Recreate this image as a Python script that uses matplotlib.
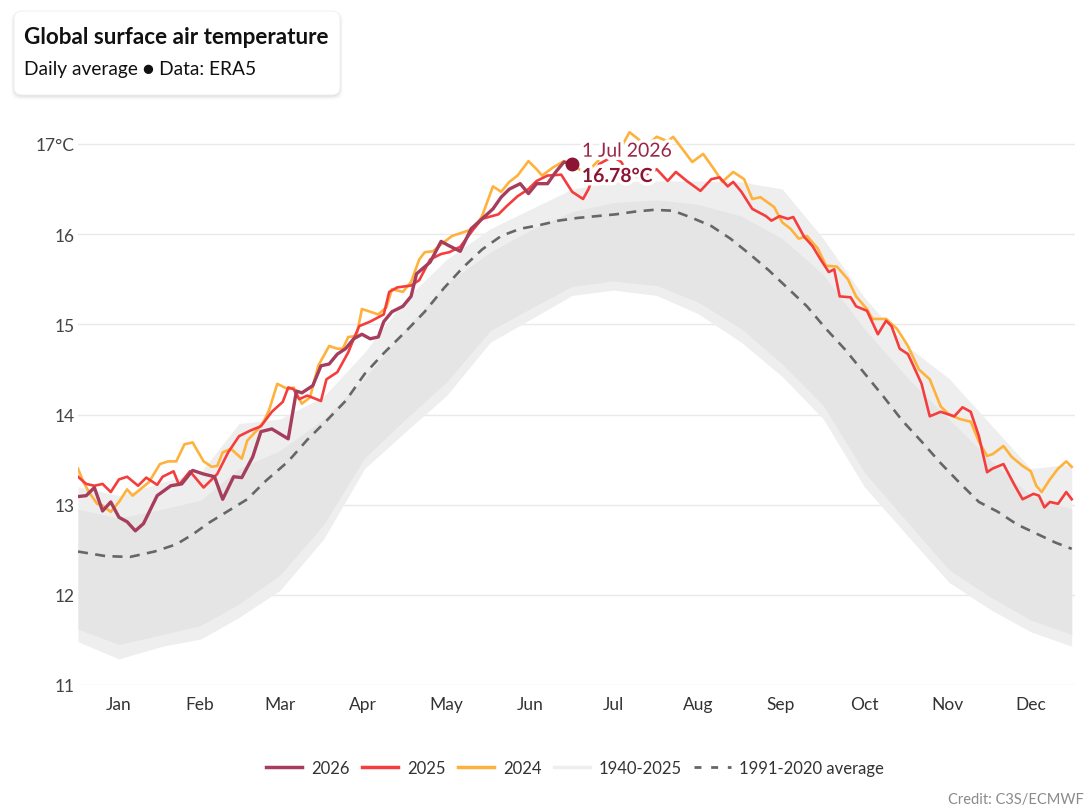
import numpy as np
import matplotlib
matplotlib.use("Agg")
import matplotlib.pyplot as plt
import matplotlib.patheffects as pe
from matplotlib.lines import Line2D
from matplotlib.patches import FancyBboxPatch

plt.rcParams["font.family"] = ["Lato", "DejaVu Sans"]

# ---- data (day of year, 0 = 1 Jan; temperature in degC) ----
MONTHS = ["Jan", "Feb", "Mar", "Apr", "May", "Jun", "Jul", "Aug", "Sep", "Oct", "Nov", "Dec"]
MONTH_MID = [15, 44.5, 74, 104.5, 135, 165.5, 196, 227, 257.5, 288, 318.5, 349]
Y_TICKS = [11, 12, 13, 14, 15, 16, 17]
Y_LABELS = ["11", "12", "13", "14", "15", "16", "17°C"]

SERIES_2026 = [
    (0, 13.09), (3, 13.10), (6, 13.19), (9, 12.93), (12, 13.03), (15, 12.86), (18, 12.81),
    (21, 12.71), (24, 12.79), (29, 13.10), (34, 13.21), (38, 13.23), (42, 13.38), (46, 13.34),
    (50, 13.31), (53, 13.06), (57, 13.31), (60, 13.30), (64, 13.53), (67, 13.81), (71, 13.84),
    (77, 13.73), (80, 14.26), (82, 14.24), (86, 14.32), (89, 14.54), (92, 14.56), (95, 14.67),
    (98, 14.73), (101, 14.84), (104, 14.89), (107, 14.84), (110, 14.86), (112, 15.03),
    (115, 15.14), (119, 15.20), (122, 15.31), (124, 15.56), (129, 15.69), (133, 15.92),
    (136, 15.87), (140, 15.81), (144, 16.06), (148, 16.17), (152, 16.28), (155, 16.41),
    (158, 16.50), (162, 16.56), (165, 16.45), (168, 16.56), (172, 16.56), (175, 16.69),
    (178, 16.80), (181, 16.78),
]

SERIES_2025 = [
    (0, 13.31), (3, 13.23), (6, 13.21), (9, 13.23), (12, 13.14), (15, 13.28), (18, 13.31),
    (22, 13.21), (25, 13.30), (29, 13.22), (31, 13.31), (35, 13.37), (37, 13.22), (41, 13.37),
    (46, 13.19), (51, 13.34), (55, 13.58), (59, 13.76), (63, 13.82), (67, 13.87), (71, 14.03),
    (75, 14.14), (77, 14.30), (79, 14.28), (81, 14.17), (84, 14.21), (89, 14.15), (91, 14.39),
    (95, 14.47), (99, 14.69), (101, 14.84), (103, 14.98), (107, 15.03), (112, 15.11),
    (114, 15.36), (117, 15.41), (122, 15.43), (125, 15.49), (129, 15.72), (133, 15.78),
    (136, 15.80), (140, 15.86), (145, 16.06), (148, 16.17), (154, 16.22), (157, 16.31),
    (161, 16.42), (165, 16.50), (168, 16.59), (172, 16.65), (177, 16.66), (181, 16.47),
    (185, 16.39), (187, 16.50), (189, 16.67), (191, 16.78), (194, 16.83), (196, 16.86),
    (199, 16.80), (202, 16.65), (206, 16.63), (210, 16.69), (212, 16.72), (216, 16.59),
    (219, 16.69), (223, 16.59), (228, 16.48), (232, 16.61), (235, 16.63), (238, 16.53),
    (240, 16.58), (243, 16.47), (247, 16.28), (252, 16.20), (254, 16.15), (257, 16.20),
    (260, 16.17), (262, 16.19), (266, 15.97), (269, 15.87), (272, 15.72), (275, 15.58),
    (277, 15.61), (279, 15.31), (283, 15.30), (285, 15.20), (289, 15.15), (293, 14.89),
    (296, 15.04), (298, 14.98), (301, 14.73), (304, 14.67), (306, 14.54), (309, 14.34),
    (312, 13.98), (316, 14.03), (321, 13.98), (324, 14.08), (327, 14.03), (330, 13.76),
    (333, 13.36), (335, 13.40), (339, 13.45), (343, 13.22), (346, 13.06), (350, 13.12),
    (352, 13.10), (354, 12.97), (356, 13.03), (359, 13.01), (362, 13.14), (364, 13.06),
]

SERIES_2024 = [
    (0, 13.40), (2, 13.25), (4, 13.14), (7, 13.01), (9, 12.99), (12, 12.92), (15, 13.03),
    (18, 13.17), (20, 13.10), (24, 13.20), (26, 13.25), (30, 13.45), (33, 13.48), (36, 13.48),
    (39, 13.67), (42, 13.69), (46, 13.48), (49, 13.42), (51, 13.43), (53, 13.58), (56, 13.62),
    (60, 13.51), (62, 13.71), (66, 13.84), (68, 13.92), (70, 14.05), (73, 14.34), (77, 14.28),
    (79, 14.30), (82, 14.12), (85, 14.19), (88, 14.54), (92, 14.76), (95, 14.73), (97, 14.73),
    (99, 14.86), (102, 14.87), (104, 15.17), (110, 15.11), (113, 15.19), (115, 15.39),
    (119, 15.36), (122, 15.47), (125, 15.72), (127, 15.80), (130, 15.81), (134, 15.91),
    (137, 15.98), (141, 16.02), (145, 16.06), (148, 16.20), (152, 16.53), (155, 16.47),
    (158, 16.58), (161, 16.65), (165, 16.81), (168, 16.72), (170, 16.65), (174, 16.74),
    (178, 16.81), (182, 16.75), (186, 16.67), (191, 16.83), (196, 16.91), (200, 17.02),
    (202, 17.13), (205, 17.06), (208, 16.98), (212, 17.08), (216, 17.03), (218, 17.08),
    (222, 16.92), (225, 16.80), (229, 16.89), (233, 16.72), (236, 16.58), (240, 16.69),
    (244, 16.61), (247, 16.39), (250, 16.41), (255, 16.30), (258, 16.13), (261, 16.06),
    (264, 15.95), (267, 15.98), (271, 15.84), (274, 15.65), (278, 15.64), (282, 15.50),
    (285, 15.31), (289, 15.17), (291, 15.06), (296, 15.06), (300, 14.95), (304, 14.76),
    (308, 14.50), (312, 14.39), (316, 14.09), (319, 14.00), (323, 13.95), (327, 13.92),
    (330, 13.70), (333, 13.54), (335, 13.56), (339, 13.65), (342, 13.53), (346, 13.43),
    (349, 13.37), (351, 13.21), (353, 13.14), (356, 13.28), (359, 13.40), (362, 13.48),
    (364, 13.42),
]

AVERAGE_1991_2020 = [
    (0, 12.48), (10, 12.43), (19, 12.42), (28, 12.48), (36, 12.56), (42, 12.67), (48, 12.80),
    (55, 12.93), (62, 13.06), (69, 13.27), (77, 13.48), (84, 13.72), (91, 13.93), (98, 14.15),
    (105, 14.45), (112, 14.68), (120, 14.92), (127, 15.14), (134, 15.40), (141, 15.63),
    (148, 15.83), (155, 15.98), (162, 16.06), (169, 16.10), (176, 16.15), (183, 16.18),
    (190, 16.20), (197, 16.22), (204, 16.25), (211, 16.27), (218, 16.26), (225, 16.18),
    (232, 16.09), (239, 15.95), (246, 15.78), (253, 15.60), (260, 15.40), (267, 15.20),
    (274, 14.95), (281, 14.72), (288, 14.46), (295, 14.20), (302, 13.93), (309, 13.70),
    (316, 13.46), (323, 13.24), (330, 13.03), (337, 12.92), (344, 12.78), (351, 12.68),
    (358, 12.58), (364, 12.51),
]

# 1940-2025 spread: outer envelope and the densely packed core
BAND_DAYS = [0, 15, 31, 45, 59, 74, 90, 105, 120, 135, 151, 166, 181, 196, 212, 227, 243,
             258, 273, 288, 304, 319, 334, 349, 364]
BAND_LOW = [11.48, 11.29, 11.43, 11.51, 11.75, 12.05, 12.62, 13.40, 13.81, 14.21, 14.80,
            15.06, 15.32, 15.38, 15.32, 15.12, 14.80, 14.42, 13.95, 13.20, 12.65, 12.14,
            11.84, 11.59, 11.43]
BAND_HIGH = [13.20, 13.10, 13.25, 13.36, 13.90, 13.95, 14.20, 14.69, 15.28, 15.72, 16.06,
             16.28, 16.50, 16.58, 16.59, 16.59, 16.58, 16.50, 15.95, 15.30, 14.75, 14.40,
             13.90, 13.40, 13.45]
CORE_LOW = [11.62, 11.45, 11.56, 11.66, 11.90, 12.22, 12.78, 13.52, 13.95, 14.36, 14.93,
            15.18, 15.42, 15.48, 15.43, 15.25, 14.95, 14.56, 14.10, 13.36, 12.80, 12.28,
            11.98, 11.72, 11.56]
CORE_HIGH = [12.95, 12.85, 12.95, 13.05, 13.40, 13.60, 13.95, 14.40, 14.95, 15.45, 15.80,
             16.05, 16.25, 16.35, 16.38, 16.33, 16.20, 15.95, 15.55, 14.95, 14.40, 13.95,
             13.50, 13.10, 12.95]

LATEST = (181, 16.78)

C_2026 = "#a63d5c"
C_2025 = "#f53d3d"
C_2024 = "#ffb23b"
C_BAND = "#eeeeee"
C_CORE = "#e5e5e5"
C_AVG = "#666666"
C_DOT = "#8c1434"

W, H = 1092, 812
fig = plt.figure(figsize=(W / 100, H / 100), dpi=100)
fig.patch.set_facecolor("white")

# axes placed in pixel terms: x 78..1075, y(11)=686, y(17)=145
y_top = 17.35
px_per_deg = (686 - 145) / 6
top_px = 145 - (y_top - 17) * px_per_deg
ax = fig.add_axes([78 / W, (H - 686) / H, (1075 - 78) / W, (686 - top_px) / H])
ax.set_xlim(0, 365.2)
ax.set_ylim(11, y_top)

ax.fill_between(BAND_DAYS, BAND_LOW, BAND_HIGH, color=C_BAND, lw=0, zorder=1)
ax.fill_between(BAND_DAYS, CORE_LOW, CORE_HIGH, color=C_CORE, lw=0, zorder=1.1)

d, t = zip(*AVERAGE_1991_2020)
ax.plot(d, t, color=C_AVG, lw=1.9, dashes=(3.8, 2.8), zorder=2)
d, t = zip(*SERIES_2024)
ax.plot(d, t, color=C_2024, lw=1.9, zorder=3, solid_joinstyle="round")
d, t = zip(*SERIES_2025)
ax.plot(d, t, color=C_2025, lw=1.9, zorder=4, solid_joinstyle="round")
d, t = zip(*SERIES_2026)
ax.plot(d, t, color=C_2026, lw=2.4, zorder=5, solid_joinstyle="round")
ax.plot([LATEST[0]], [LATEST[1]], "o", color=C_DOT, ms=9, zorder=6)

halo = [pe.withStroke(linewidth=5, foreground="white")]
ax.annotate("1 Jul 2026", (LATEST[0], LATEST[1]), xytext=(7, 3), textcoords="offset points",
            fontsize=14, color="#9a2547", va="bottom", ha="left", zorder=7, path_effects=halo)
ax.annotate(f"{LATEST[1]:.2f}°C", (LATEST[0], LATEST[1]), xytext=(7, -3), textcoords="offset points",
            fontsize=14, fontweight="bold", color=C_DOT, va="top", ha="left", zorder=7,
            path_effects=halo)

for s in ax.spines.values():
    s.set_visible(False)
ax.set_yticks(Y_TICKS)
ax.set_yticklabels(Y_LABELS)
ax.set_xticks(MONTH_MID)
ax.set_xticklabels(MONTHS)
ax.tick_params(axis="y", length=0, pad=2.5, labelsize=12.5, labelcolor="#444444")
ax.tick_params(axis="x", length=0, pad=8, labelsize=12.5, labelcolor="#333333")
ax.grid(axis="y", color="#e9e9e9", lw=1)
ax.set_axisbelow(True)

# title card
over = fig.add_axes([0, 0, 1, 1], zorder=10)
over.set_xlim(0, W)
over.set_ylim(H, 0)
over.axis("off")
for k, a in enumerate([0.035, 0.03, 0.025, 0.02]):
    over.add_patch(FancyBboxPatch((14 - k, 14 - k + 1.5), 326 + 2 * k, 82 + 2 * k,
                                  boxstyle="round,pad=0,rounding_size=9",
                                  fc="black", ec="none", alpha=a))
over.add_patch(FancyBboxPatch((14, 12), 326, 84, boxstyle="round,pad=0,rounding_size=8",
                              fc="white", ec="#eeeeee", lw=0.6))
over.text(24, 37, "Global surface air temperature", fontsize=16.2, fontweight="bold",
          color="#111111", va="center", ha="left")
over.text(24, 70, "Daily average ● Data: ERA5", fontsize=13.8, color="#111111",
          va="center", ha="left")
over.text(1084, 800, "Credit: C3S/ECMWF", fontsize=10.5, color="#8a8a8a", va="center", ha="right")

handles = [
    Line2D([], [], color=C_2026, lw=2.5),
    Line2D([], [], color=C_2025, lw=2.5),
    Line2D([], [], color=C_2024, lw=2.5),
    Line2D([], [], color="#eeeeee", lw=2.5),
    Line2D([], [], color=C_AVG, lw=2.0, dashes=(2.5, 3.5)),
]
labels = ["2026", "2025", "2024", "1940-2025", "1991-2020 average"]
fig.legend(handles, labels, loc="center", bbox_to_anchor=(575 / W, 1 - 769 / H), ncol=5,
           frameon=False, fontsize=12, handlelength=2.2, handletextpad=0.5,
           columnspacing=0.75, labelcolor="#333333")

fig.savefig("out.png", dpi=100, facecolor="white")
